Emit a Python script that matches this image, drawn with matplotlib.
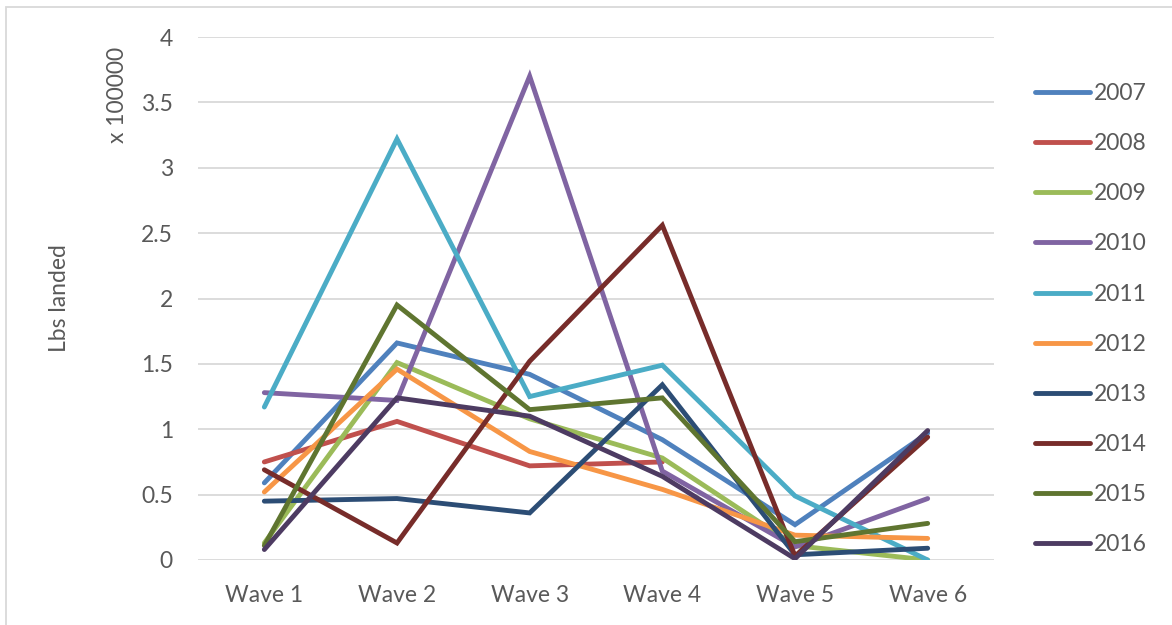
import numpy as np
import matplotlib
matplotlib.use("Agg")
import matplotlib.pyplot as plt

plt.rcParams['font.family'] = ['Lato', 'DejaVu Sans']

waves = ["Wave 1", "Wave 2", "Wave 3", "Wave 4", "Wave 5", "Wave 6"]
years = ["2007", "2008", "2009", "2010", "2011",
         "2012", "2013", "2014", "2015", "2016"]

# Lbs landed, x 100000
y2007 = [0.59, 1.66, 1.42, 0.92, 0.27, 0.97]
y2008 = [0.75, 1.06, 0.72, 0.75, np.nan, np.nan]
y2009 = [0.13, 1.51, 1.08, 0.78, 0.11, 0.00]
y2010 = [1.28, 1.22, 3.70, 0.68, 0.10, 0.47]
y2011 = [1.17, 3.22, 1.25, 1.49, 0.49, 0.00]
y2012 = [0.52, 1.46, 0.83, 0.54, 0.19, 0.165]
y2013 = [0.45, 0.47, 0.36, 1.34, 0.04, 0.09]
y2014 = [0.69, 0.13, 1.52, 2.56, 0.03, 0.94]
y2015 = [0.11, 1.95, 1.15, 1.24, 0.14, 0.28]
y2016 = [0.08, 1.24, 1.10, 0.64, 0.01, 0.99]

series = [y2007, y2008, y2009, y2010, y2011,
          y2012, y2013, y2014, y2015, y2016]
colors = ["#4F81BD", "#C0504D", "#9BBB59", "#8064A2", "#4BACC6",
          "#F79646", "#2C4D75", "#772C2A", "#5F7530", "#4D3B62"]

FS = 16.5
TXT = '#595959'

fig = plt.figure(figsize=(11.72, 6.25), dpi=100)
ax = fig.add_axes([198 / 1172, 1 - 560 / 625, 796 / 1172, 523 / 625])

x = np.arange(len(waves))
for vals, lab, col in zip(series, years, colors):
    ax.plot(x, vals, color=col, lw=3.5, label=lab,
            solid_capstyle='round', solid_joinstyle='miter')

ax.set_xlim(-0.5, len(waves) - 0.5)
ax.set_ylim(0, 4)
ax.set_yticks(np.arange(0, 4.01, 0.5))
ax.set_yticklabels(["0", "0.5", "1", "1.5", "2", "2.5", "3", "3.5", "4"])
ax.set_xticks(x)
ax.set_xticklabels(waves)
ax.grid(axis='y', color='#D9D9D9', lw=1.3)
ax.set_axisbelow(True)
for s in ax.spines.values():
    s.set_visible(False)
ax.tick_params(axis='both', length=0, labelsize=FS, colors=TXT)
ax.tick_params(axis='y', pad=18)
ax.tick_params(axis='x', pad=18)

fig.text(60 / 1172, 1 - 298 / 625, "Lbs landed", rotation=90,
         ha='center', va='center', fontsize=FS, color=TXT)
fig.text(118 / 1172, 1 - 95 / 625, "x 100000", rotation=90,
         ha='center', va='center', fontsize=FS, color=TXT)

leg = ax.legend(loc='upper left', bbox_to_anchor=(1026 / 1172, 1 - 74 / 625),
                bbox_transform=fig.transFigure, frameon=False,
                fontsize=FS, handlelength=2.4, handletextpad=0.15,
                labelspacing=1.27, borderaxespad=0)
for t in leg.get_texts():
    t.set_color(TXT)

# light chart border
fig.add_artist(plt.Rectangle((6 / 1172, -0.01), 1.1, 1 - 7 / 625 + 0.01,
                             transform=fig.transFigure, fill=False,
                             edgecolor='#D9D9D9', lw=1.3))

fig.savefig("out.png", dpi=100)
